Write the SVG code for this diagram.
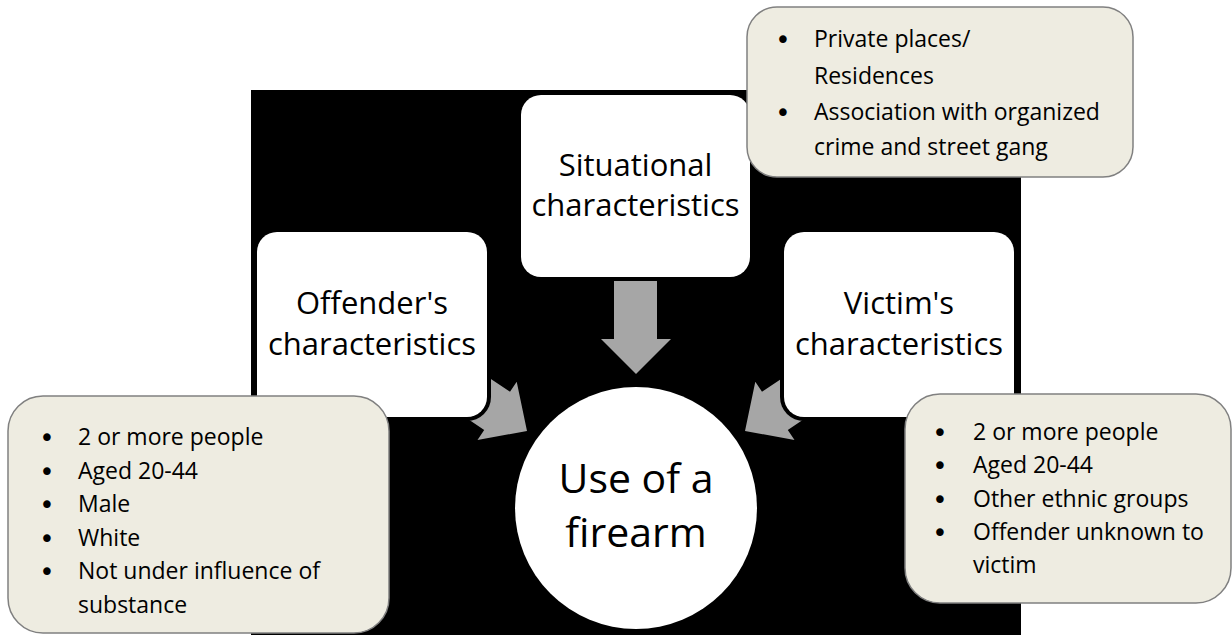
<svg xmlns="http://www.w3.org/2000/svg" width="1232" height="635" viewBox="0 0 1232 635">
<style>
text{font-family:"Open Sans","Liberation Sans",sans-serif;fill:#000}
.lbl{font-size:31px;text-anchor:middle}
.ctr{font-size:41px;text-anchor:middle}
.bt{font-size:23px}
.bu{font-family:"DejaVu Sans",sans-serif;font-size:26px;text-anchor:middle}
.box{fill:#fff}
.gap{fill:#000}
.note{fill:#eeece1;stroke:#808080;stroke-width:1.5}
.arr{fill:#a6a6a6}
</style>
<rect x="0" y="0" width="1232" height="635" fill="#fff"/>
<rect id="background" x="251" y="90" width="770" height="545" fill="#000"/>
<g id="connectors">
<polygon class="arr" points="527,431 516.7,381.8 510,391.7 440,345 414.5,383 484.2,429.9 477.5,439.9"/>
<polygon class="arr" points="745,431 755.3,381.8 762,391.7 832,345 857.5,383 787.8,429.9 794.5,439.9"/>
<polygon class="arr" points="614,281 657,281 657,339 671,339 636,374 601,339 614,339"/>
</g>
<g id="offender">
<rect class="gap" x="253" y="228" width="238" height="193" rx="24"/>
<rect class="box" x="257" y="232" width="230" height="185" rx="20"/>
<text class="lbl" x="372" y="314">Offender's</text>
<text class="lbl" x="372" y="355">characteristics</text>
</g>
<g id="victim">
<rect class="gap" x="780" y="228" width="238" height="193" rx="24"/>
<rect class="box" x="784" y="232" width="230" height="185" rx="20"/>
<text class="lbl" x="899" y="314">Victim's</text>
<text class="lbl" x="899" y="355">characteristics</text>
</g>
<g id="situational">
<rect class="gap" x="517" y="91" width="237" height="190" rx="24"/>
<rect class="box" x="521" y="95" width="229" height="182" rx="20"/>
<text class="lbl" x="635.5" y="176">Situational</text>
<text class="lbl" x="635.5" y="216">characteristics</text>
</g>
<g id="firearm">
<circle cx="636" cy="508" r="121" fill="#fff"/>
<text class="ctr" x="636" y="493">Use of a</text>
<text class="ctr" x="636" y="547">firearm</text>
</g>
<g id="situational-notes">
<rect class="note" x="747" y="7" width="386" height="170" rx="30"/>
<text class="bu" x="783" y="49">•</text>
<text class="bt" x="814" y="47">Private places/</text>
<text class="bt" x="814" y="84">Residences</text>
<text class="bu" x="783" y="122">•</text>
<text class="bt" x="814" y="120">Association with organized</text>
<text class="bt" x="814" y="155">crime and street gang</text>
</g>
<g id="offender-notes">
<rect class="note" x="8" y="396" width="381" height="237" rx="35"/>
<text class="bu" x="47" y="447">•</text>
<text class="bt" x="78" y="445">2 or more people</text>
<text class="bu" x="47" y="481">•</text>
<text class="bt" x="78" y="479">Aged 20-44</text>
<text class="bu" x="47" y="514">•</text>
<text class="bt" x="78" y="512">Male</text>
<text class="bu" x="47" y="548">•</text>
<text class="bt" x="78" y="546">White</text>
<text class="bu" x="47" y="581">•</text>
<text class="bt" x="78" y="579">Not under influence of</text>
<text class="bt" x="78" y="613">substance</text>
</g>
<g id="victim-notes">
<rect class="note" x="905" y="394" width="326" height="209" rx="35"/>
<text class="bu" x="940" y="442">•</text>
<text class="bt" x="973" y="440">2 or more people</text>
<text class="bu" x="940" y="475">•</text>
<text class="bt" x="973" y="473">Aged 20-44</text>
<text class="bu" x="940" y="509">•</text>
<text class="bt" x="973" y="507">Other ethnic groups</text>
<text class="bu" x="940" y="542">•</text>
<text class="bt" x="973" y="540">Offender unknown to</text>
<text class="bt" x="973" y="573">victim</text>
</g>
</svg>
